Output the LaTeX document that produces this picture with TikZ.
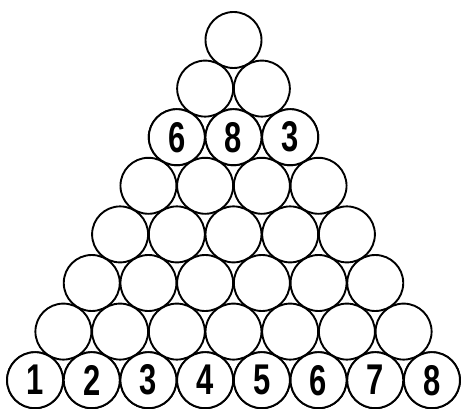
\documentclass[tikz,border=0pt]{standalone}
\usepackage{fontspec}
\usepackage{graphicx}
\newfontfamily\digitfont{Liberation Sans}
\begin{document}
\begin{tikzpicture}[x=1pt,y=1pt,
  ball/.style={circle,draw=black,line width=1.9pt,minimum size=56pt,inner sep=0pt,fill=white,
    font=\digitfont\bfseries\fontsize{43}{43}\selectfont}]
\useasboundingbox (0,0) rectangle (464,-409);
\def\dx{56.7}
\def\dy{48.6}
\foreach \r in {1,...,8}{
  \foreach \j in {1,...,\r}{
    \pgfmathsetmacro{\cx}{233.5+(\j-(\r+1)/2)*\dx}
    \pgfmathsetmacro{\cy}{-(40+(\r-1)*\dy)}
    \node[ball] (c-\r-\j) at (\cx,\cy) {};
  }
}
\node[ball] at (c-3-1) {\scalebox{0.72}[1]{6}};
\node[ball] at (c-3-2) {\scalebox{0.72}[1]{8}};
\node[ball] at (c-3-3) {\scalebox{0.72}[1]{3}};
\foreach \j in {1,...,8}{
  \node[ball] at (c-8-\j) {\scalebox{0.72}[1]{\j}};
}
\end{tikzpicture}
\end{document}
